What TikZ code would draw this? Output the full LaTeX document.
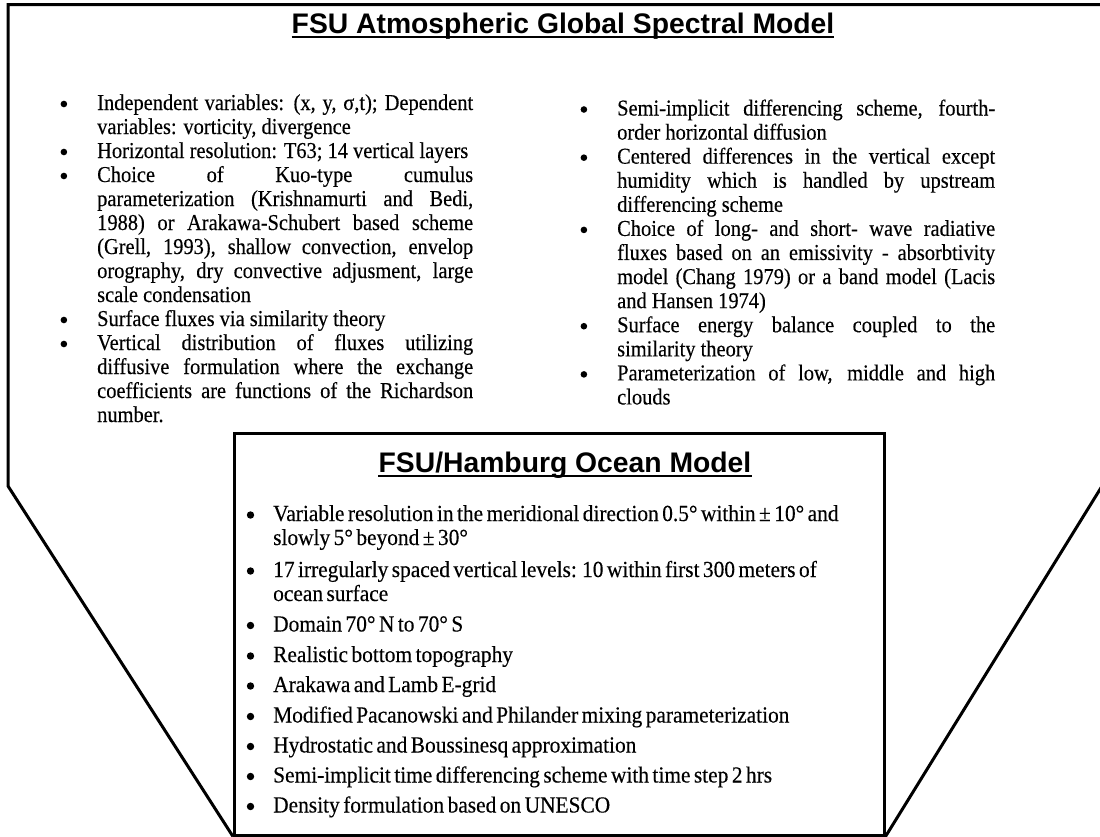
\documentclass[tikz,border=0pt]{standalone}
\usepackage{fontspec}
\setmainfont{Liberation Serif}[FakeStretch=0.9,FakeBold=0.3]
\newfontfamily\oceanfont{Liberation Serif}[FakeStretch=0.93,FakeBold=0.3]
\newfontfamily\titlefont{Liberation Sans}
\newlength\bulgap
\newlength\bulr
\newcommand\jline[1]{\noindent\makebox[\hsize][s]{#1}\par}
\newcommand\lline[1]{\noindent\makebox[\hsize][l]{#1}\par}
\newcommand\bul{\llap{\tikz[baseline={(0pt,-6pt)}]\fill (0pt,0pt) circle (\bulr);\hskip\bulgap}}
\begin{document}
\begin{tikzpicture}[x=1pt,y=-1pt,
  frame/.style={line width=3pt, line join=miter},
  oceanbox/.style={draw, line width=2.5pt, inner sep=0pt, anchor=north west, minimum width=650pt, minimum height=402pt},
  titletext/.style={font=\titlefont\bfseries\fontsize{28.3}{32}\selectfont, inner sep=0pt, anchor=base},
  ul/.style={line width=2pt},
  col/.style={inner sep=0pt, anchor=base west}]
\useasboundingbox (0,0) rectangle (1100,836);

\node[oceanbox] (ocean) at (233,432) {};
\draw[frame] (ocean.south west) -- (8,486) -- (8,4.5) -- (1107,4.5) -- (1107,478) -- (ocean.south east);

\node[titletext] (atmtitle) at (563,33) {FSU Atmospheric Global Spectral Model};
\draw[ul] ([yshift=-3.5pt]atmtitle.base west) -- ([yshift=-3.5pt]atmtitle.base east);

\node[titletext] (octitle) at (565,472) {FSU/Hamburg Ocean Model};
\draw[ul] ([yshift=-3.5pt]octitle.base west) -- ([yshift=-3.5pt]octitle.base east);

\node[col] (atmL) at (97,110) {\vtop{\hsize=376pt\parindent=0pt\lineskiplimit=-20pt\fontsize{22.7}{24}\selectfont\bulgap=30pt\bulr=3.3pt
\jline{\bul Independent variables: (x, y, σ,t); Dependent}
\lline{variables: vorticity, divergence}
\lline{\bul Horizontal resolution: T63; 14 vertical layers}
\jline{\bul Choice of Kuo-type cumulus}
\jline{parameterization (Krishnamurti and Bedi,}
\jline{1988) or Arakawa-Schubert based scheme}
\jline{(Grell, 1993), shallow convection, envelop}
\jline{orography, dry convective adjusment, large}
\lline{scale condensation}
\lline{\bul Surface fluxes via similarity theory}
\jline{\bul Vertical distribution of fluxes utilizing}
\jline{diffusive formulation where the exchange}
\jline{coefficients are functions of the Richardson}
\lline{number.}
}};

\node[col] (atmR) at (617,115.5) {\vtop{\hsize=378pt\parindent=0pt\lineskiplimit=-20pt\fontsize{22.7}{24.08}\selectfont\bulgap=30pt\bulr=3.3pt
\jline{\bul Semi-implicit differencing scheme, fourth-}
\lline{order horizontal diffusion}
\jline{\bul Centered differences in the vertical except}
\jline{humidity which is handled by upstream}
\lline{differencing scheme}
\jline{\bul Choice of long- and short- wave radiative}
\jline{fluxes based on an emissivity - absorbtivity}
\jline{model (Chang 1979) or a band model (Lacis}
\lline{and Hansen 1974)}
\jline{\bul Surface energy balance coupled to the}
\lline{similarity theory}
\jline{\bul Parameterization of low, middle and high}
\lline{clouds}
}};

\node[col] (ocL) at (273,521) {\vtop{\hsize=590pt\parindent=0pt\lineskiplimit=-20pt\oceanfont\fontsize{23}{24}\selectfont\spaceskip=0.15em plus 0.05em\bulgap=19pt\bulr=3.7pt
\lline{\bul Variable resolution in the meridional direction 0.5° within ± 10° and}
\lline{slowly 5° beyond ± 30°}
\vspace{8pt}
\lline{\bul 17 irregularly spaced vertical levels: 10 within first 300 meters of}
\lline{ocean surface}
\vspace{6.5pt}
\lline{\bul Domain 70° N to 70° S}
\vspace{6.5pt}
\lline{\bul Realistic bottom topography}
\vspace{6pt}
\lline{\bul Arakawa and Lamb E-grid}
\vspace{6.5pt}
\lline{\bul Modified Pacanowski and Philander mixing parameterization}
\vspace{6pt}
\lline{\bul Hydrostatic and Boussinesq approximation}
\vspace{6pt}
\lline{\bul Semi-implicit time differencing scheme with time step 2 hrs}
\vspace{6pt}
\lline{\bul Density formulation based on UNESCO}
}};
\end{tikzpicture}
\end{document}
